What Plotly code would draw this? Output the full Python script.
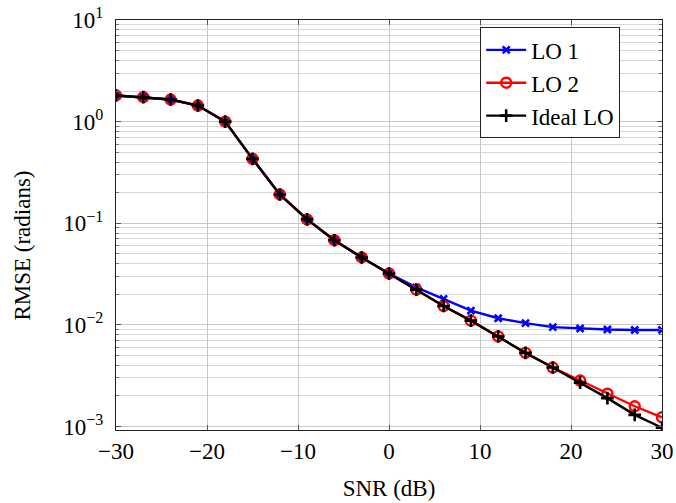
import plotly.graph_objects as go

# SNR sweep (dB)
snr_db = [-30, -27, -24, -21, -18, -15, -12, -9, -6, -3, 0, 3, 6, 9, 12, 15, 18, 21, 24, 27, 30]

# RMSE (radians) for each oscillator model
rmse_lo1 = [1.81, 1.74, 1.65, 1.44, 1.0, 0.43, 0.192, 0.109, 0.068, 0.046, 0.032,
            0.0234, 0.0180, 0.0138, 0.0116, 0.0104, 0.0095, 0.0092, 0.0090, 0.0089, 0.0089]
rmse_lo2 = [1.81, 1.74, 1.65, 1.44, 1.0, 0.43, 0.192, 0.109, 0.068, 0.046, 0.032,
            0.0222, 0.0153, 0.0110, 0.0077, 0.0053, 0.0038, 0.00283, 0.0021, 0.00158, 0.00123]
rmse_ideal = [1.81, 1.74, 1.65, 1.44, 1.0, 0.43, 0.192, 0.109, 0.068, 0.046, 0.032,
              0.0222, 0.0153, 0.0110, 0.0077, 0.0053, 0.0038, 0.0027, 0.0019, 0.0013, 0.00097]

x_ticks = [-30, -20, -10, 0, 10, 20, 30]
x_tick_text = ["−30", "−20", "−10", "0", "10", "20", "30"]
y_ticks = [1e-3, 1e-2, 1e-1, 1e0, 1e1]
y_tick_text = ["10<sup>−3</sup>", "10<sup>−2</sup>", "10<sup>−1</sup>", "10<sup>0</sup>", "10<sup>1</sup>"]
y_minor = [m * 10.0 ** e for e in range(-3, 1) for m in range(2, 10)]

FONT = "Liberation Serif"
FS = 23

fig = go.Figure()
fig.add_trace(go.Scatter(
    x=snr_db, y=rmse_lo1, name="LO 1", mode="lines+markers",
    line=dict(color="#0000ff", width=2.4),
    marker=dict(symbol="x-thin", size=7, line=dict(color="#0000ff", width=2.6)),
))
fig.add_trace(go.Scatter(
    x=snr_db, y=rmse_lo2, name="LO 2", mode="lines+markers",
    line=dict(color="#ff0000", width=2.4),
    marker=dict(symbol="circle-open", size=10, color="#ff0000", line=dict(width=2.4)),
))
fig.add_trace(go.Scatter(
    x=snr_db, y=rmse_ideal, name="Ideal LO", mode="lines+markers",
    line=dict(color="#000000", width=2.4),
    marker=dict(symbol="cross-thin", size=9, line=dict(color="#000000", width=2.6)),
))

fig.update_layout(
    width=676, height=503,
    margin=dict(l=116, r=14, t=20, b=73),
    paper_bgcolor="white", plot_bgcolor="white",
    font=dict(family=FONT, size=FS, color="black"),
    showlegend=True,
    legend=dict(
        x=0.667, y=0.982, xanchor="left", yanchor="top",
        bgcolor="white", bordercolor="#222222", borderwidth=1,
        font=dict(family=FONT, size=FS, color="black"),
        itemwidth=40, tracegroupgap=0,
    ),
    # y-axis title placed as rotated text to the left of the tick labels
    annotations=[dict(
        text="RMSE (radians)", textangle=-90,
        xref="paper", yref="paper", x=-0.172, y=0.45,
        xanchor="center", yanchor="middle", showarrow=False,
        font=dict(family=FONT, size=FS, color="black"),
    )],
)

fig.update_xaxes(
    range=[-30, 30], automargin=False,
    tickmode="array", tickvals=x_ticks, ticktext=x_tick_text,
    showgrid=True, gridcolor="#c8c8c8", gridwidth=1,
    ticks="inside", ticklen=5, tickcolor="#555555",
    showline=True, linecolor="#222222", linewidth=1.2, mirror="ticks",
    zeroline=False,
    tickfont=dict(family=FONT, size=FS),
    title=dict(text="SNR (dB)", font=dict(family=FONT, size=FS), standoff=17),
)
fig.update_yaxes(
    type="log", range=[-3.035, 1.0], automargin=False,
    tickmode="array", tickvals=y_ticks, ticktext=y_tick_text,
    ticklabelstandoff=7,
    showgrid=True, gridcolor="#c8c8c8", gridwidth=1,
    ticks="inside", ticklen=5, tickcolor="#555555",
    minor=dict(tickmode="array", tickvals=y_minor, showgrid=True,
               gridcolor="#d8d8d8", gridwidth=1, ticks="inside", ticklen=3,
               tickcolor="#777777"),
    showline=True, linecolor="#222222", linewidth=1.2, mirror="ticks",
    zeroline=False,
    tickfont=dict(family=FONT, size=FS),
)

fig.write_html("out.html")
